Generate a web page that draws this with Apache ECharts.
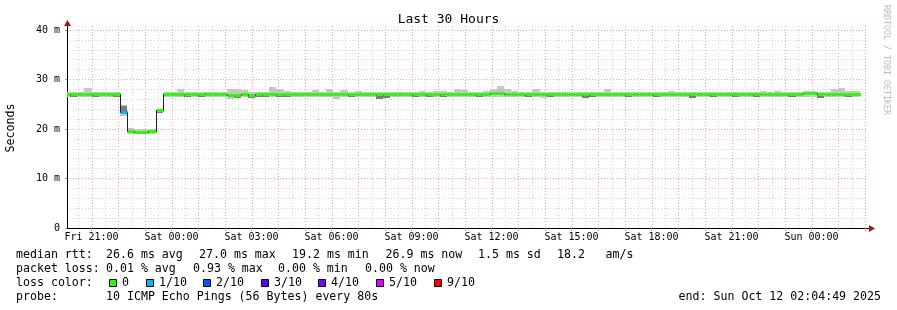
<!DOCTYPE html>
<html><head><meta charset="utf-8">
<script src="https://cdn.jsdelivr.net/npm/echarts@6/dist/echarts.min.js"></script>
<style>html,body{margin:0;padding:0;background:#fff}#c{width:897px;height:310px}</style>
</head><body><div id="c"></div>
<script>
// ---- chart data ----
const titleText = 'Last 30 Hours';
const yAxisTitle = 'Seconds';
const watermark = 'RRDTOOL / TOBI OETIKER';
const xStartHour = 20 + 4/60 + 49/3600;      // Fri 20:04:49 (hours since Fri 00:00)
const xEndHour = xStartHour + 30;            // Sun 02:04:49
const blockHours = 16/60;                    // 12 x 80s consolidation
const firstBlockStart = 19 + 56/60 + 4/3600; // first (partly visible) block
const xLabelHours = [21,24,27,30,33,36,39,42,45,48];
const xLabels = ['Fri 21:00','Sat 00:00','Sat 03:00','Sat 06:00','Sat 09:00','Sat 12:00','Sat 15:00','Sat 18:00','Sat 21:00','Sun 00:00'];
const yTicks = [0,10,20,30,40];
const yTickLabels = ['0','10 m','20 m','30 m','40 m'];

// median rtt per block (ms)
const med = [
26.9,26.9,26.85,26.95,26.9,26.85,26.9,26.9,
23.2,19.4,19.25,19.2,19.3,23.65,
26.9,26.9,26.95,26.9,26.9,26.9,26.85,26.9,26.9,26.7,26.75,26.85,26.7,26.85,26.9,26.95,
26.95,26.9,26.9,26.85,26.9,26.9,26.9,26.95,26.85,26.9,
26.9,26.9,26.9,26.9,26.8,26.8,26.9,26.95,26.9,26.9,
26.9,26.9,26.95,26.85,26.9,26.95,26.9,26.9,26.9,26.9,
27.0,27.0,26.95,26.9,26.9,26.9,26.95,26.85,26.9,26.9,
26.9,26.9,26.9,26.85,26.85,26.9,26.95,26.9,26.9,26.9,
26.9,26.9,26.9,26.9,26.9,26.95,26.9,26.9,26.85,26.9,
26.9,26.9,26.9,26.9,26.85,26.9,26.9,26.9,26.95,26.9,
26.95,26.9,26.9,26.95,27.0,27.0,26.85,26.9,26.95,26.95,
26.9,26.9];
// smoke max per block
const hi = [
27.5,27.4,27.4,28.3,27.4,27.4,27.5,27.4,
24.9,20.3,20.0,20.0,19.9,23.9,
27.4,27.4,28.1,27.4,27.4,27.45,27.5,27.4,27.4,28.0,28.0,27.8,27.4,27.4,27.45,28.5,
28.1,27.6,27.45,27.4,27.4,27.9,27.4,28.1,27.4,27.9,
27.4,27.7,27.4,27.4,27.4,27.4,27.45,27.5,27.4,27.4,
27.7,27.4,27.7,27.6,27.4,28.1,27.9,27.45,27.4,27.7,
28.1,28.7,28.1,27.7,27.4,27.4,28.1,27.5,27.4,27.4,
27.4,27.4,27.45,27.4,27.4,27.5,28.1,27.45,27.4,27.4,
27.4,27.4,27.4,27.45,27.4,27.6,27.4,27.4,27.4,27.4,
27.4,27.4,27.4,27.4,27.4,27.4,27.4,27.45,27.7,27.4,
27.7,27.4,27.4,27.45,27.7,27.6,27.4,27.45,28.0,28.3,
27.7,27.7];
// smoke min per block
const lo = [
26.5,26.4,26.5,26.5,26.4,26.5,26.5,26.4,
22.6,19.0,18.9,18.9,18.9,23.2,
26.5,26.5,26.5,26.4,26.5,26.4,26.5,26.5,26.5,26.1,26.3,26.5,26.3,26.4,26.4,26.5,
26.4,26.4,26.5,26.5,26.5,26.5,26.5,26.5,26.1,26.5,
26.4,26.5,26.5,26.5,26.1,26.2,26.5,26.5,26.5,26.4,
26.5,26.4,26.5,26.4,26.5,26.5,26.5,26.5,26.4,26.5,
26.5,26.5,26.5,26.5,26.5,26.4,26.5,26.2,26.4,26.5,
26.5,26.5,26.5,26.3,26.4,26.5,26.5,26.5,26.5,26.4,
26.5,26.5,26.5,26.4,26.5,26.5,26.5,26.5,26.3,26.5,
26.5,26.4,26.5,26.5,26.4,26.5,26.5,26.4,26.5,26.5,
26.5,26.5,26.4,26.5,26.5,26.5,26.3,26.5,26.5,26.5,
26.4,26.5];
// dense (darker) smoke band per block
const coreLo = [
26.9,26.45,26.85,26.95,26.45,26.85,26.9,26.45,
23.3,19.4,19.25,19.2,19.3,23.2,
26.9,26.9,26.95,26.45,26.9,26.45,27.0,26.9,26.9,26.7,26.35,26.85,26.35,26.45,26.45,26.95,
26.45,26.45,26.9,26.85,26.9,26.9,26.9,26.95,26.85,26.9,
26.45,26.9,26.9,26.9,26.15,26.25,26.9,26.95,26.9,26.45,
26.9,26.45,26.95,26.45,26.9,26.95,26.9,26.9,26.45,26.9,
27.0,27.0,26.95,26.9,26.9,26.45,26.95,26.85,26.45,26.9,
26.9,26.9,26.9,26.35,26.45,26.9,26.95,26.9,26.9,26.45,
26.9,26.9,26.9,26.45,26.9,26.95,26.9,26.9,26.35,26.9,
26.9,26.45,26.9,26.9,26.45,26.9,26.9,26.45,26.95,26.9,
26.95,26.9,26.45,26.95,27.0,27.0,26.35,26.9,26.95,26.95,
26.45,26.9];
const coreHi = [
26.9,26.9,26.85,26.95,26.9,26.85,26.9,26.9,
24.6,19.4,19.25,19.2,19.3,23.5,
26.9,26.9,26.95,26.9,26.9,26.9,27.35,26.9,26.9,26.7,26.75,26.85,26.7,26.85,26.9,26.95,
26.95,26.9,26.9,26.85,26.9,26.9,26.9,26.95,26.85,26.9,
26.9,26.9,26.9,26.9,26.8,26.8,26.9,26.95,26.9,26.9,
26.9,26.9,26.95,26.85,26.9,26.95,26.9,26.9,26.9,26.9,
27.0,27.0,26.95,26.9,26.9,26.9,26.95,26.85,26.9,26.9,
26.9,26.9,26.9,26.85,26.85,26.9,26.95,26.9,26.9,26.9,
26.9,26.9,26.9,26.9,26.9,26.95,26.9,26.9,26.85,26.9,
26.9,26.9,26.9,26.9,26.85,26.9,26.9,26.9,26.95,26.9,
26.95,26.9,26.9,26.95,27.0,27.0,26.85,26.9,26.95,26.95,
26.9,26.9];
// loss class per block (index into lossColors): one probe lost in block 8
const loss = med.map((_, k) => (k === 8 ? 1 : 0));

const lossLabels = ['0','1/10','2/10','3/10','4/10','5/10','9/10'];
const lossColors = ['#26ff00','#00b8ff','#0059ff','#5e00ff','#7e00ff','#dd00ff','#ff0000'];

const legendRtt = [['median rtt:',16],['26.6 ms avg',106],['27.0 ms max',199],['19.2 ms min',292],['26.9 ms now',385.5],['1.5 ms sd',478],['18.2',557],['am/s',605.5]];
const legendLoss = [['packet loss:',16],['0.01 % avg',106],['0.93 % max',193],['0.00 % min',278],['0.00 % now',365]];
const legendColorLabel = 'loss color:';
const legendBoxX = [109,146,203,261,318,376,434];
const probeLabel = 'probe:';
const probeText = '10 ICMP Echo Pings (56 Bytes) every 80s';
const endText = 'end: Sun Oct 12 02:04:49 2025';

// ---- build ----
const chart = echarts.init(document.getElementById('c'), null, {renderer: 'canvas'});
const MONO = '"DejaVu Sans Mono", monospace';

const blockData = med.map((m, k) => [
  firstBlockStart + k * blockHours,
  firstBlockStart + (k + 1) * blockHours,
  m, lo[k], hi[k], coreLo[k], coreHi[k], loss[k], k > 0 ? med[k-1] : m
]);

const gridTimes = [];
for (let h = Math.ceil(xStartHour * 2) / 2; h <= xEndHour; h += 0.5) gridTimes.push([h, h % 1 === 0 ? 1 : 0]);
const hourTicks = gridTimes.filter(g => g[1] === 1).map(g => g[0]);

function renderGrid(params, api) {
  const t = api.value(0), major = api.value(1);
  const p0 = api.coord([t, 0]), p1 = api.coord([t, 40]);
  const x = Math.round(p0[0]) + 0.5;
  return {type: 'line', shape: {x1: x, y1: p0[1], x2: x, y2: p1[1] - 4},
    style: {stroke: major ? '#f3a3a3' : '#d2d2d2', lineWidth: 1, lineDash: [1, 2]}, silent: true};
}

function renderBlock(params, api) {
  const ts = api.value(0), te = api.value(1);
  const x0 = Math.round(api.coord([ts, 0])[0]);
  const x1 = Math.round(api.coord([te, 0])[0]);
  const Y = v => api.coord([ts, v])[1];
  const w = x1 - x0;
  const yMed = Math.round(Y(api.value(2)));
  const yLo = Math.round(Y(api.value(3))), yHi = Math.round(Y(api.value(4)));
  const yCL = Math.round(Y(api.value(5))), yCH = Math.round(Y(api.value(6)));
  const yPrev = Math.round(Y(api.value(8)));
  const col = lossColors[api.value(7)];
  const ch = [];
  ch.push({type: 'rect', shape: {x: x0, y: yHi, width: w, height: Math.max(0, yLo - yHi)}, style: {fill: '#c6c6c6'}});
  if (yCL - yCH > 0) ch.push({type: 'rect', shape: {x: x0, y: yCH, width: w, height: yCL - yCH}, style: {fill: '#7c7c7c'}});
  ch.push({type: 'polyline', shape: {points: [[x0 + 0.5, yPrev - 0.5], [x0 + 0.5, yMed - 0.5], [x1, yMed - 0.5]]},
    style: {stroke: '#202020', lineWidth: 1, fill: null}});
  ch.push({type: 'rect', shape: {x: x0 + 1, y: yMed - 2, width: w, height: 3}, style: {fill: col}});
  return {type: 'group', children: ch};
}

const graphics = [];
const txt = (text, x, y, extra) => Object.assign({type: 'text', x: x, y: y, silent: true,
  style: Object.assign({text: text, font: '11.6px ' + MONO, fill: '#000', textVerticalAlign: 'middle', verticalAlign: 'middle'}, extra || {})});
legendRtt.forEach(p => graphics.push(txt(p[0], p[1], 255)));
legendLoss.forEach(p => graphics.push(txt(p[0], p[1], 269)));
graphics.push(txt(legendColorLabel, 16, 283));
lossLabels.forEach((l, i) => {
  graphics.push({type: 'rect', shape: {x: legendBoxX[i] + 0.5, y: 279.5, width: 7, height: 7},
    style: {fill: lossColors[i], stroke: '#000', lineWidth: 1}});
  graphics.push(txt(l, legendBoxX[i] + 13, 283));
});
graphics.push(txt(probeLabel, 16, 297));
graphics.push(txt(probeText, 106, 297));
graphics.push(txt(endText, 881, 297, {textAlign: 'right', align: 'right'}));
graphics.push({type: 'text', x: 11, y: 128, rotation: Math.PI / 2, silent: true,
  style: {text: yAxisTitle, font: '11.6px ' + MONO, fill: '#000', textAlign: 'center', align: 'center', textVerticalAlign: 'middle', verticalAlign: 'middle'}});
graphics.push({type: 'text', x: 886, y: 60, rotation: -Math.PI / 2, silent: true,
  style: {text: watermark, font: '8.3px ' + MONO, fill: '#bcbcbc', textAlign: 'center', align: 'center', textVerticalAlign: 'middle', verticalAlign: 'middle'}});
graphics.push({type: 'line', shape: {x1: 67.5, y1: 26, x2: 67.5, y2: 30}, style: {stroke: '#000', lineWidth: 1}});
graphics.push({type: 'line', shape: {x1: 867, y1: 228.5, x2: 870, y2: 228.5}, style: {stroke: '#000', lineWidth: 1}});
graphics.push({type: 'polygon', shape: {points: [[64, 26], [71, 26], [67.5, 20]]}, style: {fill: '#a01818'}});
graphics.push({type: 'polygon', shape: {points: [[869, 225], [869, 232], [875, 228.5]]}, style: {fill: '#a01818'}});

chart.setOption({
  animation: false,
  backgroundColor: '#fff',
  title: {text: titleText, left: 'center', top: 13, padding: 0,
    textStyle: {fontFamily: MONO, fontSize: 13, fontWeight: 'normal', color: '#000'}},
  grid: {left: 67, right: 30, top: 30, bottom: 82, containLabel: false},
  xAxis: {type: 'value', min: xStartHour, max: xEndHour,
    axisLine: {show: true, lineStyle: {color: '#000', width: 1}},
    axisTick: {show: true, customValues: hourTicks, length: 3, lineStyle: {color: '#f08080'}},
    axisLabel: {show: true, customValues: xLabelHours, margin: 4,
      fontFamily: MONO, fontSize: 10, color: '#000',
      formatter: v => { const i = xLabelHours.findIndex(h => Math.abs(h - v) < 1e-6); return i >= 0 ? xLabels[i] : ''; }},
    splitLine: {show: false}},
  yAxis: {type: 'value', min: 0, max: 40, interval: 10,
    axisLine: {show: true, lineStyle: {color: '#000', width: 1}},
    axisTick: {show: true, length: 2, lineStyle: {color: '#f08080'}},
    axisLabel: {margin: 7, fontFamily: MONO, fontSize: 10, color: '#000',
      formatter: v => yTickLabels[yTicks.indexOf(v)]},
    splitLine: {show: true, lineStyle: {color: '#f3a3a3', width: 1, type: [1, 2]}},
    minorTick: {show: false, splitNumber: 5},
    minorSplitLine: {show: true, lineStyle: {color: '#d2d2d2', width: 1, type: [1, 2]}}},
  series: [
    {type: 'custom', name: 'grid', data: gridTimes, renderItem: renderGrid, silent: true, z: 1,
      encode: {x: 0}},
    {type: 'custom', name: 'rtt', data: blockData, renderItem: renderBlock, clip: true, z: 2,
      encode: {x: [0, 1], y: [2, 3, 4]}}
  ],
  graphic: graphics
});
</script></body></html>
